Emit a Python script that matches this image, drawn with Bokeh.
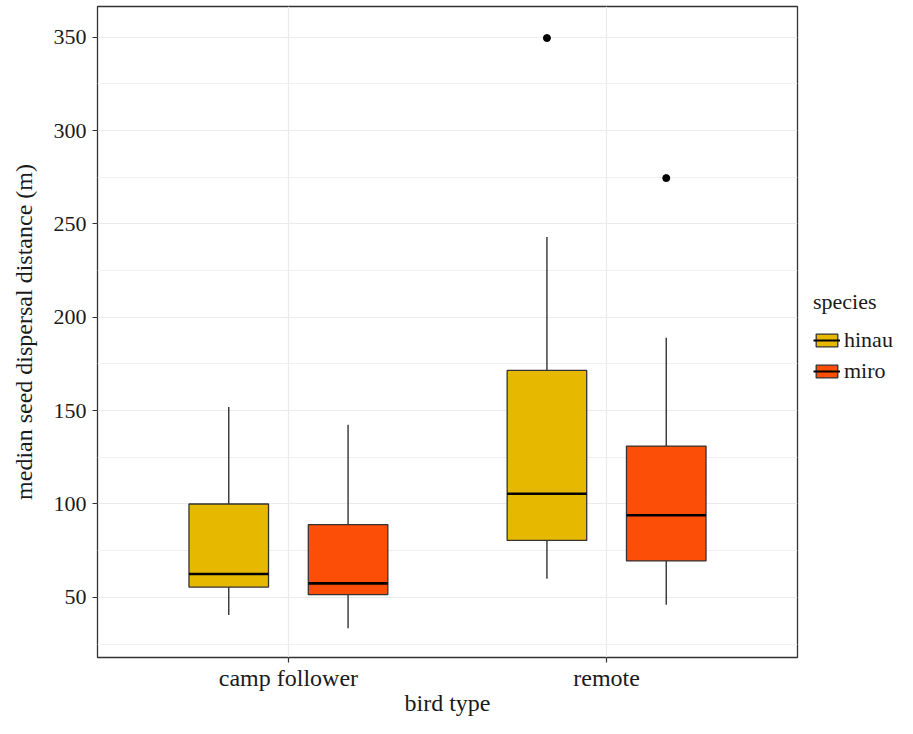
from bokeh.plotting import figure
from bokeh.layouts import row
from bokeh.models import (Range1d, FixedTicker, ColumnDataSource, Legend, LegendItem)
from bokeh.embed import file_html
from bokeh.resources import INLINE

# ---- data ----
bird_types = ["camp follower", "remote"]
species = ["hinau", "miro"]
colors = ["#E7B800", "#FC4E07"]

hinau_low = [40.5, 60.0]
hinau_q1 = [55.5, 80.5]
hinau_med = [62.5, 105.5]
hinau_q3 = [100.0, 171.5]
hinau_high = [152.0, 243.0]
hinau_out_type = ["remote"]
hinau_out_val = [349.5]

miro_low = [33.5, 46.0]
miro_q1 = [51.5, 69.5]
miro_med = [57.5, 94.0]
miro_q3 = [89.0, 131.0]
miro_high = [142.5, 189.0]
miro_out_type = ["remote"]
miro_out_val = [274.5]

y_ticks = [50, 100, 150, 200, 250, 300, 350]
y_minor = [25, 75, 125, 175, 225, 275, 325]

FONT = "Liberation Serif"
TXT = "#1a1a1a"
NAN = float("nan")

p = figure(width=799, height=718, output_backend="svg", toolbar_location=None,
           x_range=Range1d(0.4, 2.6), y_range=Range1d(17.8, 366.4),
           min_border_left=97, min_border_right=2, min_border_top=6, min_border_bottom=50)

p.background_fill_color = "white"
p.border_fill_color = "white"
p.outline_line_color = "#333333"
p.outline_line_width = 1.3

# axes
p.xaxis.ticker = FixedTicker(ticks=[1, 2])
p.xaxis.major_label_overrides = {i + 1: b for i, b in enumerate(bird_types)}
p.yaxis.ticker = FixedTicker(ticks=y_ticks, minor_ticks=y_minor)
for ax in (p.xaxis[0], p.yaxis[0]):
    ax.axis_line_color = None
    ax.major_tick_line_color = "#333333"
    ax.major_tick_line_width = 1.2
    ax.major_tick_out = 5
    ax.major_tick_in = 0
    ax.minor_tick_line_color = None
    ax.major_label_text_font = FONT
    ax.major_label_text_color = TXT
    ax.axis_label_text_font = FONT
    ax.axis_label_text_font_size = "24px"
    ax.axis_label_text_font_style = "normal"
    ax.axis_label_text_color = TXT
p.xaxis.major_label_text_font_size = "24px"
p.yaxis.major_label_text_font_size = "22px"
p.xaxis.axis_label = "bird type"
p.yaxis.axis_label = "median seed dispersal distance (m)"
p.xaxis.major_label_standoff = 2
p.xaxis.axis_label_standoff = -4
p.yaxis.major_label_standoff = 6
p.yaxis.axis_label_standoff = 14

# grid
p.xgrid.grid_line_color = "#EBEBEB"
p.xgrid.grid_line_width = 1.2
p.ygrid.grid_line_color = "#EBEBEB"
p.ygrid.grid_line_width = 1.2
p.ygrid.minor_grid_line_color = "#F0F0F0"
p.ygrid.minor_grid_line_width = 1.0

dodge = 0.1875
box_w = 0.25

series = [
    (hinau_low, hinau_q1, hinau_med, hinau_q3, hinau_high, hinau_out_type, hinau_out_val, -dodge),
    (miro_low, miro_q1, miro_med, miro_q3, miro_high, miro_out_type, miro_out_val, dodge),
]

for k, (lo, q1, med, q3, hi, otype, oval, off) in enumerate(series):
    xs = [i + 1 + off for i in range(len(bird_types))]
    src = ColumnDataSource(dict(x=xs, lo=lo, q1=q1, med=med, q3=q3, hi=hi,
                                xl=[x - box_w / 2 for x in xs], xr=[x + box_w / 2 for x in xs]))
    p.segment(x0="x", x1="x", y0="q3", y1="hi", source=src, line_color="#333333", line_width=1.4)
    p.segment(x0="x", x1="x", y0="lo", y1="q1", source=src, line_color="#333333", line_width=1.4)
    p.quad(left="xl", right="xr", bottom="q1", top="q3", source=src,
           fill_color=colors[k], line_color="#333333", line_width=1.3)
    p.segment(x0="xl", x1="xr", y0="med", y1="med", source=src, line_color="black", line_width=2.6)
    ox = [bird_types.index(t) + 1 + off for t in otype]
    p.scatter(x=ox, y=oval, size=7, color="black")

# ---- legend panel (separate small figure to the right) ----
lg = figure(width=98, height=718, output_backend="svg", toolbar_location=None,
            x_range=Range1d(0, 1), y_range=Range1d(0, 1),
            min_border_left=0, min_border_right=0, min_border_top=0, min_border_bottom=0)
lg.axis.visible = False
lg.grid.visible = False
lg.outline_line_color = None
lg.background_fill_color = "white"
lg.border_fill_color = "white"

items = []
for k, sp in enumerate(species):
    # proxy renderers (NaN data: nothing drawn on the canvas, only legend keys)
    r_box = lg.quad(left=[NAN], right=[NAN], bottom=[NAN], top=[NAN], fill_color=colors[k],
                    line_color="#333333", line_width=1.3)
    r_med = lg.line(x=[NAN], y=[NAN], line_color="black", line_width=2)
    items.append(LegendItem(label=sp, renderers=[r_box, r_med]))

legend = Legend(items=items, title="species", location=(14, 273))
legend.title_text_font = FONT
legend.title_text_font_size = "22px"
legend.title_text_font_style = "normal"
legend.title_text_color = TXT
legend.label_text_font = FONT
legend.label_text_font_size = "22px"
legend.label_text_color = TXT
legend.glyph_width = 27
legend.glyph_height = 16
legend.label_height = 22
legend.label_standoff = 4
legend.spacing = 5
legend.padding = 0
legend.margin = 0
legend.title_standoff = 12
legend.border_line_color = None
legend.background_fill_alpha = 0
lg.add_layout(legend, "center")

layout = row(p, lg, spacing=0)
open("out.html", "w").write(file_html(layout, INLINE))
